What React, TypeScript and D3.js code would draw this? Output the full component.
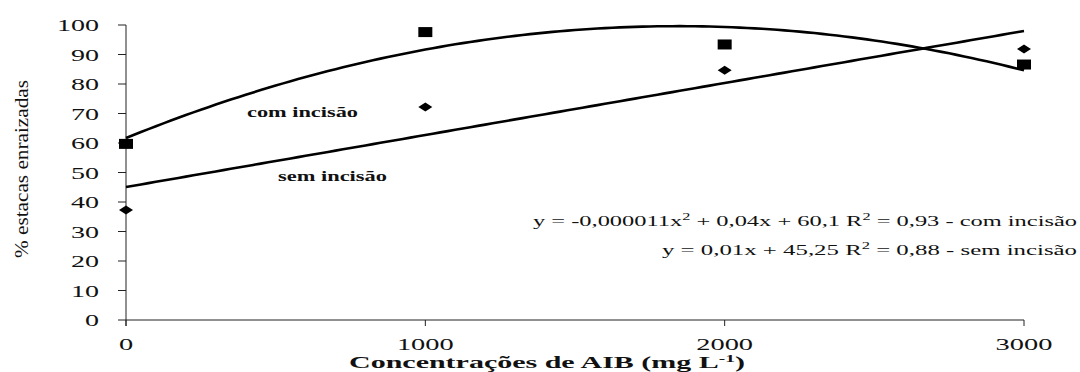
import React from "react";
import * as d3 from "d3";

const concentrations = [0, 1000, 2000, 3000];
const comIncisao = [59.7, 97.6, 93.4, 86.6];
const semIncisao = [37.3, 72.2, 84.7, 91.9];
const yTicks = [0, 10, 20, 30, 40, 50, 60, 70, 80, 90, 100];
const xTicks = [0, 1000, 2000, 3000];

// least-squares polynomial fit (degree 1 or 2) of the read points
function polyFit(xs: number[], ys: number[], deg: number): number[] {
  const n = deg + 1;
  const A: number[][] = [];
  for (let i = 0; i < n; i++) {
    const row: number[] = [];
    for (let j = 0; j < n; j++) row.push(d3.sum(xs, (x) => Math.pow(x, i + j)));
    row.push(d3.sum(xs, (x, k) => Math.pow(x, i) * ys[k]));
    A.push(row);
  }
  for (let i = 0; i < n; i++) {
    for (let k = i + 1; k < n; k++) {
      const f = A[k][i] / A[i][i];
      for (let j = i; j <= n; j++) A[k][j] -= f * A[i][j];
    }
  }
  const c = new Array(n).fill(0);
  for (let i = n - 1; i >= 0; i--) {
    let s = A[i][n];
    for (let j = i + 1; j < n; j++) s -= A[i][j] * c[j];
    c[i] = s / A[i][i];
  }
  return c;
}

const serif = "Liberation Serif";

export default function App() {
  const W = 1080;
  const H = 372;
  const x = d3.scaleLinear().domain([0, 3000]).range([126, 1024]);
  const y = d3.scaleLinear().domain([0, 100]).range([320, 25]);

  const t = concentrations.map((c) => c / 1000);
  const qc = polyFit(t, comIncisao, 2);
  const lc = polyFit(t, semIncisao, 1);
  const samples = d3.range(0, 3000.001, 25);
  const line = d3
    .line<number[]>()
    .x((d) => x(d[0]))
    .y((d) => y(d[1]));
  const quadPath = line(
    samples.map((s) => {
      const u = s / 1000;
      return [s, qc[0] + qc[1] * u + qc[2] * u * u];
    })
  );
  const linPath = line(
    samples.map((s) => {
      const u = s / 1000;
      return [s, lc[0] + lc[1] * u];
    })
  );

  const ff = { fontFamily: serif };

  return (
    <svg width={W} height={H} style={{ position: "absolute", left: 0, top: 0, background: "#fff" }}>
      <rect width={W} height={H} fill="#fff" />
      {/* y axis */}
      <line x1={x(0)} x2={x(0)} y1={y(100)} y2={y(0) + 6} stroke="#222" strokeWidth={1} />
      {yTicks.map((v) => (
        <g key={"y" + v}>
          <line x1={x(0) - 8} x2={x(0)} y1={y(v)} y2={y(v)} stroke="#222" strokeWidth={1} />
          <text
            x={99}
            y={y(v) + 6}
            textAnchor="end"
            style={ff}
            fill="#111"
            fontSize={17}
            textLength={14 * String(v).length}
            lengthAdjust="spacingAndGlyphs"
          >
            {v}
          </text>
        </g>
      ))}
      {/* x axis */}
      <line x1={x(0)} x2={x(3000)} y1={y(0)} y2={y(0)} stroke="#222" strokeWidth={1} />
      {xTicks.map((v) => (
        <g key={"x" + v}>
          <line x1={x(v)} x2={x(v)} y1={y(0)} y2={y(0) + 6} stroke="#222" strokeWidth={1} />
          <text
            x={x(v)}
            y={350}
            textAnchor="middle"
            style={ff}
            fill="#111"
            fontSize={17}
            textLength={14.2 * String(v).length}
            lengthAdjust="spacingAndGlyphs"
          >
            {v}
          </text>
        </g>
      ))}
      <text
        x={349}
        y={368}
        style={ff}
        fill="#111"
        fontWeight="bold"
        fontSize={17}
        textLength={396}
        lengthAdjust="spacingAndGlyphs"
      >
        Concentrações de AIB (mg L
        <tspan dy={-6} fontSize={11}>-1</tspan>
        <tspan dy={6}>)</tspan>
      </text>
      <text
        transform={`translate(28,169) rotate(-90)`}
        textAnchor="middle"
        style={ff}
        fill="#111"
        fontSize={19}
        textLength={178}
        lengthAdjust="spacingAndGlyphs"
      >
        % estacas enraizadas
      </text>

      {/* fitted lines */}
      <path d={quadPath || ""} fill="none" stroke="#000" strokeWidth={2.6} />
      <path d={linPath || ""} fill="none" stroke="#000" strokeWidth={2.6} />

      {/* markers */}
      {concentrations.map((c, i) => (
        <rect
          key={"s" + i}
          x={x(c) - 7}
          y={y(comIncisao[i]) - 5}
          width={14}
          height={10}
          fill="#000"
        />
      ))}
      {concentrations.map((c, i) => {
        const cx = x(c);
        const cy = y(semIncisao[i]);
        return (
          <path
            key={"d" + i}
            d={`M${cx - 7},${cy} L${cx},${cy - 4.5} L${cx + 7},${cy} L${cx},${cy + 4.5} Z`}
            fill="#000"
          />
        );
      })}

      {/* labels */}
      <text
        x={247}
        y={117}
        style={ff}
        fill="#111"
        fontWeight="bold"
        fontSize={14}
        textLength={111}
        lengthAdjust="spacingAndGlyphs"
      >
        com incisão
      </text>
      <text
        x={278}
        y={181}
        style={ff}
        fill="#111"
        fontWeight="bold"
        fontSize={14}
        textLength={109}
        lengthAdjust="spacingAndGlyphs"
      >
        sem incisão
      </text>
      <text
        x={533}
        y={226}
        style={ff}
        fill="#111"
        fontSize={15}
        textLength={544}
        lengthAdjust="spacingAndGlyphs"
      >
        y = -0,000011x<tspan dy={-6} fontSize={10}>2</tspan>
        <tspan dy={6}> + 0,04x + 60,1  R</tspan>
        <tspan dy={-6} fontSize={10}>2</tspan>
        <tspan dy={6}> = 0,93 - com incisão</tspan>
      </text>
      <text
        x={662}
        y={255}
        style={ff}
        fill="#111"
        fontSize={15}
        textLength={415}
        lengthAdjust="spacingAndGlyphs"
      >
        y = 0,01x + 45,25  R<tspan dy={-6} fontSize={10}>2</tspan>
        <tspan dy={6}> = 0,88 - sem incisão</tspan>
      </text>
    </svg>
  );
}
